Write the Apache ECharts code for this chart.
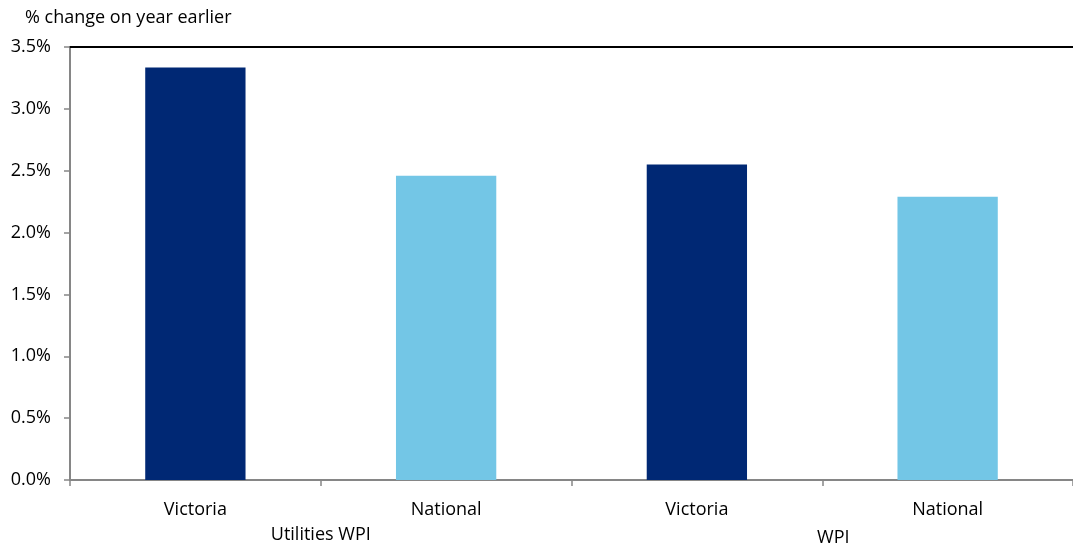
<!DOCTYPE html>
<html>
<head>
<meta charset="utf-8">
<script src="https://cdn.jsdelivr.net/npm/echarts@6/dist/echarts.min.js"></script>
<style>
html,body{margin:0;padding:0;background:#fff;}
#chart{width:1073px;height:547px;}
</style>
</head>
<body>
<div id="chart"></div>
<script>
const categories = ['Victoria', 'National', 'Victoria', 'National'];
const groups = ['Utilities WPI', 'WPI'];
const values = [3.335, 2.46, 2.55, 2.29];
const barColors = ['#002874', '#73C6E6', '#002874', '#73C6E6'];
const yTitle = '% change on year earlier';

const font = '"Open Sans", Lato, sans-serif';
const chart = echarts.init(document.getElementById('chart'));
chart.setOption({
  animation: false,
  backgroundColor: '#fff',
  grid: { left: 70, right: -4, top: 47, bottom: 67 },
  graphic: [{
    type: 'text', left: 25, top: 9,
    style: { text: yTitle, font: '18px ' + font, fill: '#000' }
  }],
  xAxis: [{
    type: 'category', data: categories, position: 'bottom',
    axisLine: { lineStyle: { color: '#868686', width: 2 } },
    axisTick: { show: true, alignWithLabel: false, length: 6, lineStyle: { color: '#868686', width: 1.5 } },
    axisLabel: { color: '#000', fontSize: 18, fontFamily: font, margin: 21 }
  }, {
    type: 'category', data: groups, position: 'bottom',
    axisLine: { show: false }, axisTick: { show: false },
    axisLabel: {
      color: '#000', fontSize: 18, fontFamily: font, margin: 46,
      formatter: function (v) { return v === 'WPI' ? '{b|' + v + '}' : v; },
      rich: { b: { fontSize: 18, fontFamily: font, color: '#000', padding: [3, 0, 0, 22] } }
    }
  }, {
    type: 'category', data: categories, position: 'top',
    axisLine: { lineStyle: { color: '#000', width: 2 } },
    axisTick: { show: false }, axisLabel: { show: false }
  }],
  yAxis: {
    type: 'value', min: 0, max: 3.5, interval: 0.5,
    axisLine: { show: true, lineStyle: { color: '#868686', width: 2 } },
    axisTick: { show: true, length: 6, lineStyle: { color: '#868686', width: 1.5 } },
    splitLine: { show: false },
    axisLabel: {
      color: '#000', fontSize: 18, fontFamily: font, margin: 19,
      formatter: function (v) { return v.toFixed(1) + '%'; }
    }
  },
  series: [{
    type: 'bar',
    xAxisIndex: 0,
    barWidth: '40%',
    data: values.map(function (v, i) { return { value: v, itemStyle: { color: barColors[i] } }; })
  }]
});
</script>
</body>
</html>
